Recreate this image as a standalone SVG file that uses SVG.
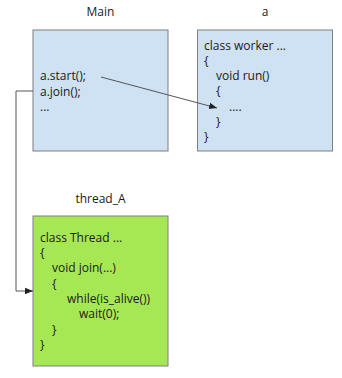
<svg xmlns="http://www.w3.org/2000/svg" width="342" height="378" viewBox="0 0 342 378">
<defs>
<style>
text{font-family:"Open Sans","DejaVu Sans",sans-serif;font-size:12px;fill:#1a1a1a}
.lbl{text-anchor:middle}
.box{stroke:#7f7f7f;stroke-width:1}
.blue{fill:#cfe2f3}
.green{fill:#a6e854}
.con{fill:none;stroke:#555;stroke-width:1}
</style>
<marker id="arr" viewBox="0 0 10 10" refX="10" refY="5" markerWidth="8" markerHeight="8" markerUnits="userSpaceOnUse" orient="auto">
<path d="M0,1 L10,5 L0,9 Z" fill="#222"/>
</marker>
</defs>
<rect width="342" height="378" fill="#ffffff"/>
<g id="main">
<text class="lbl" x="100.5" y="16">Main</text>
<rect class="box blue" x="33" y="30" width="135" height="121"/>
<text x="40" y="80">a.start();</text>
<text x="40" y="96">a.join();</text>
<text x="40" y="111">...</text>
</g>
<g id="a">
<text class="lbl" x="265" y="16">a</text>
<rect class="box blue" x="197.5" y="30" width="135" height="121"/>
<text x="204" y="50">class worker ...</text>
<text x="204" y="65">{</text>
<text x="216" y="80">void run()</text>
<text x="216" y="95">{</text>
<text x="229" y="111">....</text>
<text x="216" y="126">}</text>
<text x="204" y="141">}</text>
</g>
<g id="thread_A">
<text class="lbl" x="100.5" y="203">thread_A</text>
<rect class="box green" x="33" y="216" width="135" height="150"/>
<text x="40" y="242">class Thread ...</text>
<text x="40" y="257">{</text>
<text x="52" y="272">void join(...)</text>
<text x="52" y="288">{</text>
<text x="67" y="303">while(is_alive())</text>
<text x="79" y="318">wait(0);</text>
<text x="52" y="334">}</text>
<text x="40" y="349">}</text>
</g>
<g id="connectors">
<path class="con" d="M101,77 L217,108" marker-end="url(#arr)"/>
<path class="con" d="M33,91 H16 V291 H33" marker-end="url(#arr)"/>
</g>
</svg>
